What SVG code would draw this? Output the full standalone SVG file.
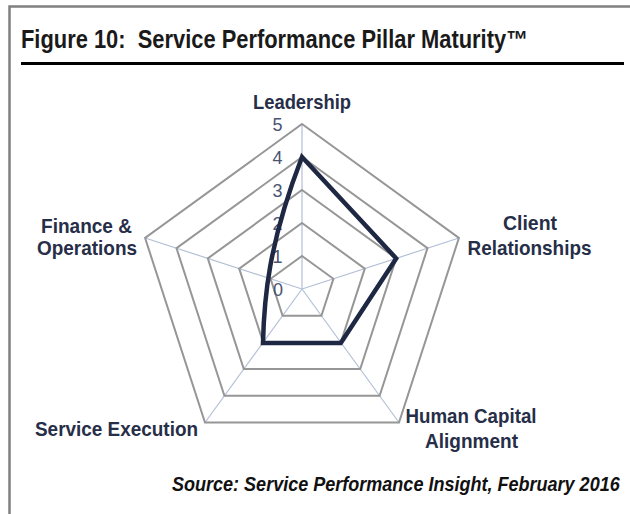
<svg xmlns="http://www.w3.org/2000/svg" width="630" height="514" viewBox="0 0 630 514">
<style>
.frame{stroke:#808080;stroke-width:2.5;fill:none}
.ring{fill:none;stroke:#969696;stroke-width:2}
.spoke{stroke:#b3c0d6;stroke-width:1.2}
.lbl{font-family:"Liberation Sans",Arial,sans-serif;font-weight:bold;font-size:21px;fill:#262e48}
.num{font-family:"Liberation Sans",Arial,sans-serif;font-size:18px;fill:#4a5372;text-anchor:middle}
.title{font-family:"Liberation Sans",Arial,sans-serif;font-weight:bold;font-size:25px;fill:#1a1a1a;white-space:pre}
.src{font-family:"Liberation Sans",Arial,sans-serif;font-weight:bold;font-style:italic;font-size:19.5px;fill:#111}
</style>
<rect width="630" height="514" fill="#fff"/>
<g id="frame">
<path class="frame" d="M9.5,514 V6.5 H630"/>
<line x1="21" y1="63.5" x2="624" y2="63.5" stroke="#000" stroke-width="3"/>
</g>
<g id="title"><text class="title" x="21" y="48" textLength="507" lengthAdjust="spacingAndGlyphs" xml:space="preserve">Figure 10:  Service Performance Pillar Maturity™</text></g>
<g id="grid">
<g class="spokes">
<line class="spoke" x1="302" y1="289" x2="302" y2="124"/>
<line class="spoke" x1="302" y1="289" x2="458.9" y2="238"/>
<line class="spoke" x1="302" y1="289" x2="399" y2="422.5"/>
<line class="spoke" x1="302" y1="289" x2="205" y2="422.5"/>
<line class="spoke" x1="302" y1="289" x2="145.1" y2="238"/>
</g>
<polygon class="ring" points="302,256 333.4,278.8 321.4,315.7 282.6,315.7 270.6,278.8"/>
<polygon class="ring" points="302,223 364.8,268.6 340.8,342.4 263.2,342.4 239.2,268.6"/>
<polygon class="ring" points="302,190 396.2,258.4 360.2,369.1 243.8,369.1 207.8,258.4"/>
<polygon class="ring" points="302,157 427.5,248.2 379.6,395.8 224.4,395.8 176.5,248.2"/>
<polygon class="ring" points="302,124 458.9,238 399,422.5 205,422.5 145.1,238"/>
</g>
<g id="axis-values">
<text class="num" x="277.5" y="131">5</text>
<text class="num" x="277.5" y="164">4</text>
<text class="num" x="277.5" y="197">3</text>
<text class="num" x="277.5" y="230">2</text>
<text class="num" x="277.5" y="263">1</text>
<text class="num" x="278" y="296">0</text>
</g>
<g id="series">
<path d="M302,157 L396.2,258.4 L340.8,343 L263,343 C264,300 268,245 302,157 Z" fill="none" stroke="#1e2843" stroke-width="4.5" stroke-linejoin="miter"/>
</g>
<g id="node-leadership"><text class="lbl" x="302" y="109" text-anchor="middle" textLength="98" lengthAdjust="spacingAndGlyphs">Leadership</text></g>
<g id="node-client">
<text class="lbl" x="530" y="230" text-anchor="middle" textLength="54" lengthAdjust="spacingAndGlyphs">Client</text>
<text class="lbl" x="529.5" y="255" text-anchor="middle" textLength="124" lengthAdjust="spacingAndGlyphs">Relationships</text>
</g>
<g id="node-human">
<text class="lbl" x="471" y="423" text-anchor="middle" textLength="131" lengthAdjust="spacingAndGlyphs">Human Capital</text>
<text class="lbl" x="471.5" y="448" text-anchor="middle" textLength="93" lengthAdjust="spacingAndGlyphs">Alignment</text>
</g>
<g id="node-service"><text class="lbl" x="116.5" y="436" text-anchor="middle" textLength="163" lengthAdjust="spacingAndGlyphs">Service Execution</text></g>
<g id="node-finance">
<text class="lbl" x="86.5" y="233" text-anchor="middle" textLength="91" lengthAdjust="spacingAndGlyphs">Finance &amp;</text>
<text class="lbl" x="87" y="255" text-anchor="middle" textLength="100" lengthAdjust="spacingAndGlyphs">Operations</text>
</g>
<g id="source"><text class="src" transform="translate(172,491) scale(0.925,1)">Source: Service Performance Insight, February 2016</text></g>
</svg>
